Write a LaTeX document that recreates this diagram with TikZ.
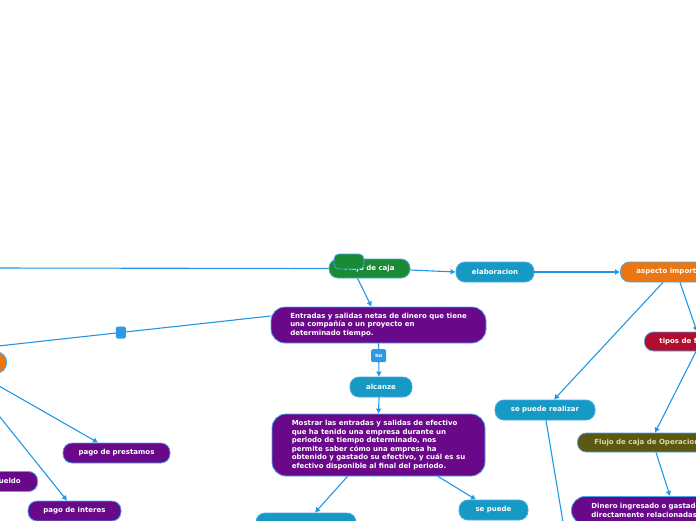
\documentclass[tikz,border=0pt]{standalone}
\usepackage{fontspec}
\setmainfont{DejaVu Sans}
\usetikzlibrary{arrows.meta,positioning,calc}

\definecolor{linkblue}{RGB}{33,150,230}
\definecolor{edgeblue}{RGB}{75,168,236}
\definecolor{cajagreen}{RGB}{26,138,52}
\definecolor{tealbox}{RGB}{22,154,196}
\definecolor{orangebox}{RGB}{235,118,18}
\definecolor{purplebox}{RGB}{106,8,138}
\definecolor{redbox}{RGB}{176,14,44}
\definecolor{olivebox}{RGB}{92,88,20}
\definecolor{olivetext}{RGB}{222,216,168}
\definecolor{tagblue}{RGB}{44,155,228}

\begin{document}
\begin{tikzpicture}[x=1pt, y=-1pt,
    font=\fontsize{7}{8.6}\selectfont\bfseries,
    topic/.style={draw=edgeblue, line width=0.8pt, rounded corners=9pt,
                  text=white, minimum height=20pt, inner sep=0pt},
    cut/.style={topic, anchor=west, inner xsep=16pt},
    bigbox/.style={draw=edgeblue, line width=0.8pt, rounded corners=14pt,
                   text=white, fill=purplebox, align=left,
                   inner xsep=19pt, inner ysep=6pt},
    tag/.style={fill=tagblue, rounded corners=1.5pt, inner sep=0pt,
                text=white, font=\fontsize{5.5}{6}\selectfont\bfseries},
    arr/.style={-{Latex[length=5pt,width=6pt]}, draw=linkblue, line width=1.1pt},
    lnk/.style={draw=linkblue, line width=1.1pt}
]

\useasboundingbox (0,0) rectangle (696,520);
\clip (0,0) rectangle (696,520);

\node[topic, fill=cajagreen, minimum width=81pt, minimum height=19pt]
    (flujo) at (369.5,268.5) {Flujo de caja};
\node[topic, fill=cajagreen, rounded corners=5pt, minimum width=30pt,
      minimum height=15pt] (flujotab) at (349,261.5) {};

\node[topic, fill=tealbox, minimum width=78pt] (elab) at (495,272) {elaboracion};
\node[cut, fill=orangebox] (asp) at (620,272) {aspecto importante};

\node[bigbox, minimum width=215pt, minimum height=36pt] (ent) at (378.5,325)
    {Entradas y salidas netas de dinero que tiene\\
     una compañía o un proyecto en\\
     determinado tiempo.};

\node[topic, fill=tealbox, minimum width=62pt] (alc) at (381,387) {alcanze};

\node[bigbox, minimum width=213pt, minimum height=62pt] (most) at (378.5,445)
    {Mostrar las entradas y salidas de efectivo\\
     que ha tenido una empresa durante un\\
     periodo de tiempo determinado, nos\\
     permite saber cómo una empresa ha\\
     obtenido y gastado su efectivo, y cuál es su\\
     efectivo disponible al final del periodo.};

\node[topic, fill=tealbox, minimum width=100pt] (hidden) at (306,523) {};
\node[topic, fill=tealbox, minimum width=69pt] (sepuede) at (493.5,510) {se puede};
\node[topic, fill=tealbox, minimum width=100pt] (spr) at (545,410) {se puede realizar};

\node[cut, fill=redbox, minimum height=19pt, inner xsep=15pt] (tipos) at (644,341.5)
    {tipos de flujo};
\node[cut, fill=olivebox, minimum height=19pt, inner xsep=17pt, text=olivetext]
    (oper) at (577,442.5) {Flujo de caja de Operaciones};
\node[bigbox, anchor=north west, text width=180pt, inner xsep=20pt, inner ysep=7pt]
    (din) at (571,496)
    {Dinero ingresado o gastado\\
     directamente relacionadas};

\node[topic, fill=orangebox, anchor=east, minimum width=60pt, minimum height=21pt,
      rounded corners=10pt] (lorange) at (7,362.5) {};
\node[topic, fill=purplebox, anchor=east, minimum width=94pt] (sueldo) at (38,481.5)
    {pago de sueldo};
\node[topic, fill=purplebox, minimum width=107pt] (prest) at (116.5,453)
    {pago de prestamos};
\node[topic, fill=purplebox, minimum width=93pt] (inter) at (74.5,511)
    {pago de interes};

\coordinate (lftA) at (-10,268);
\coordinate (lftB) at (-10,346.9);
\coordinate (sprend) at (566,540);

\draw[lnk] (flujo.west) -- (lftA);
\draw[arr] ([yshift=-1.5pt]flujo.east) -- (elab.west);
\draw[arr] (elab.east) -- (asp.west);
\draw[arr] ([xshift=-12pt]flujo.south) -- ([xshift=-7pt]ent.north);

\draw[lnk] ([yshift=9pt]ent.west) --
    node[tag, pos=0.534, minimum width=10pt, minimum height=12pt] (sq) {} (lftB);
\draw[arr] (ent.south) --
    node[tag, pos=0.37, minimum width=15pt, minimum height=13pt] (su) {su}
    ([xshift=-2pt]alc.north);
\draw[arr] ([xshift=-2pt]alc.south) -- (most.north);

\draw[arr] ([xshift=-31pt]most.south) -- ([xshift=9pt]hidden.north);
\draw[arr] ([xshift=59.5pt]most.south) -- ([xshift=-17.5pt]sepuede.north);

\draw[arr] ([xshift=43pt]asp.south west) -- ([xshift=9pt]spr.north);
\draw[arr] ([xshift=60pt]asp.south west) -- ([xshift=53pt]tipos.north west);
\draw[arr] ([xshift=52pt]tipos.south west) -- ([xshift=78pt]oper.north west);
\draw[arr] ([xshift=79pt]oper.south west) -- ([xshift=99pt]din.north west);
\draw[lnk] ([xshift=1pt]spr.south) -- (sprend);

\draw[arr] ([xshift=-30pt]lorange.south east) -- ([xshift=-18.5pt]prest.north);
\draw[arr] ([xshift=-42pt]lorange.south east) -- ([xshift=-7.5pt]inter.north);

\end{tikzpicture}
\end{document}
